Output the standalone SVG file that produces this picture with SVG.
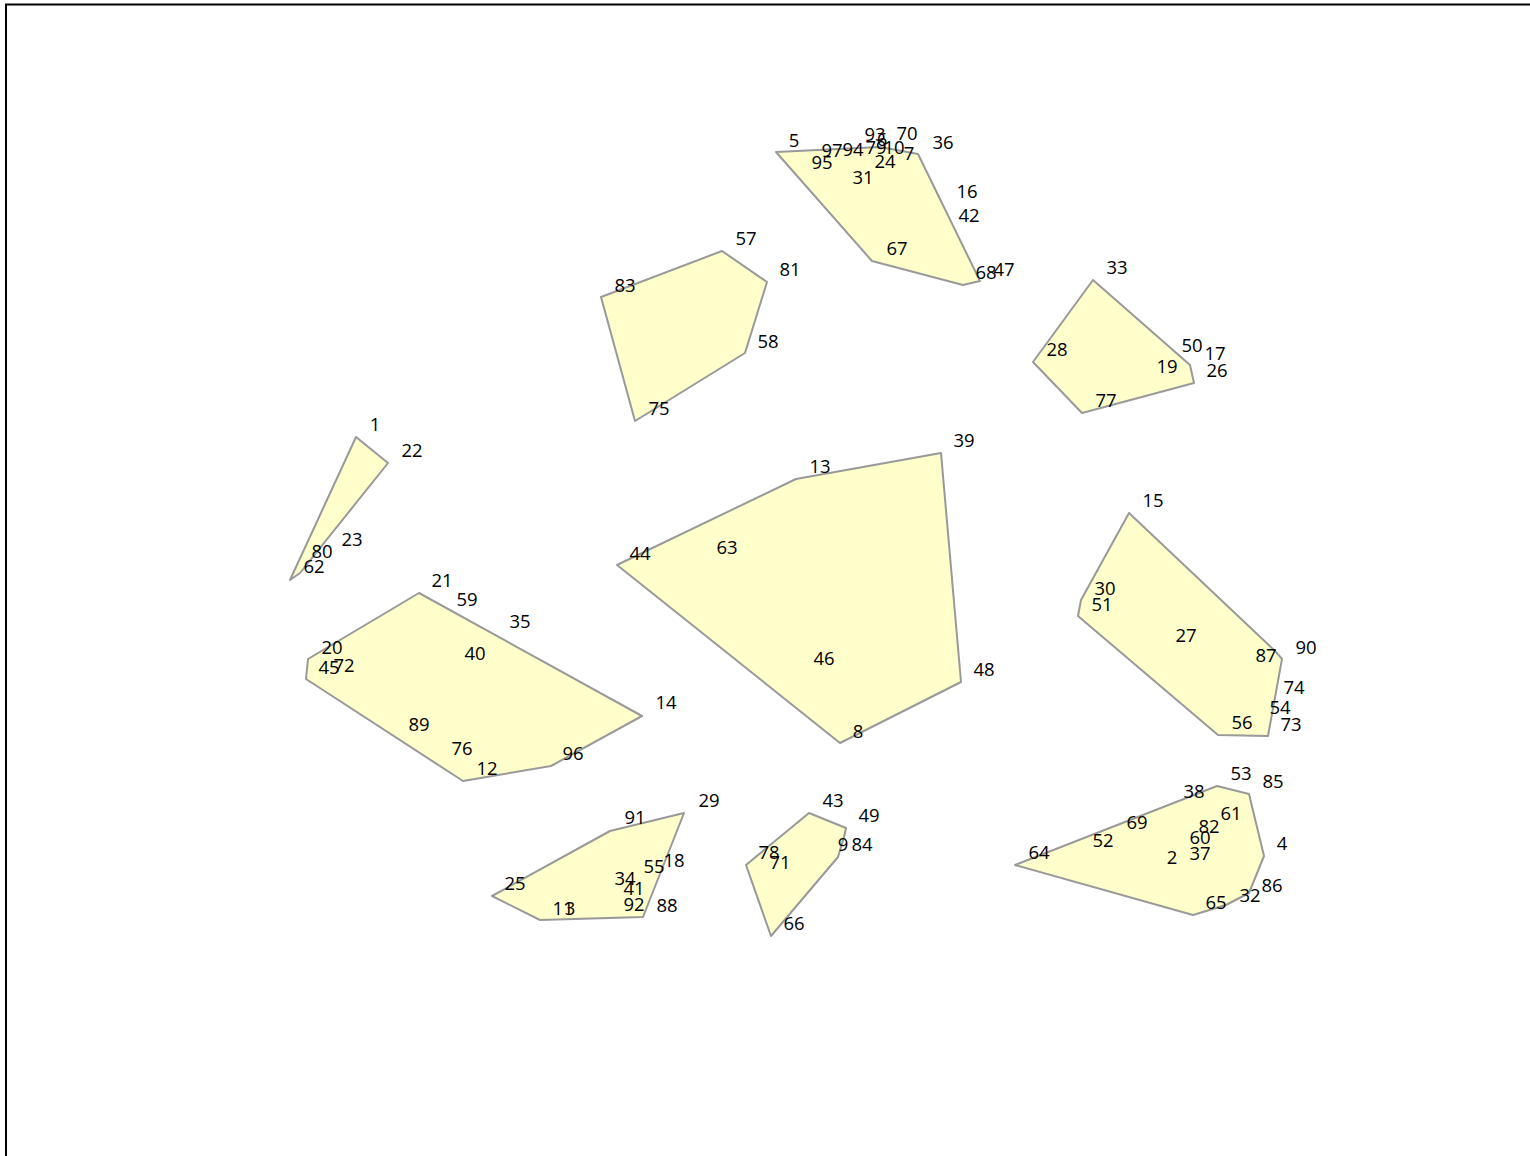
<svg xmlns="http://www.w3.org/2000/svg" width="1530" height="1156" viewBox="0 0 1530 1156">
<style>
.p{fill:#ffffcc;stroke:#999999;stroke-width:2;stroke-linejoin:round}
text{font-family:"Open Sans","Liberation Sans",sans-serif;font-size:18.5px;fill:#000;text-anchor:middle}
</style>
<rect x="0" y="0" width="1530" height="1156" fill="#fff"/>
<rect x="6" y="4.5" width="1600" height="1300" fill="none" stroke="#000" stroke-width="2"/>
<g id="shapes">
<polygon id="poly-top" class="p" points="776,152 880,147 918,154 980,281 963,285 872,261"/>
<polygon id="poly-57" class="p" points="601,297 722,251 767,282 745,353 635,421"/>
<polygon id="poly-33" class="p" points="1093,280 1190,365 1194,383 1082,413 1033,362"/>
<polygon id="poly-1" class="p" points="356,437 388,463 300,573 290,580"/>
<polygon id="poly-big" class="p" points="617,565 796,479 941,453 961,682 840,743"/>
<polygon id="poly-21" class="p" points="419,593 642,716 551,766 463,781 306,679 308,659"/>
<polygon id="poly-15" class="p" points="1129,513 1276,652 1282,659 1268,736 1218,735 1078,616 1081,600"/>
<polygon id="poly-29" class="p" points="684,813 643,917 540,920 492,896 610,831"/>
<polygon id="poly-43" class="p" points="809,813 846,828 844,837 838,857 771,936 746,865"/>
<polygon id="poly-64" class="p" points="1217,786 1249,794 1264,856 1249,893 1226,905 1193,915 1015,865"/>
</g>
<g id="labels" transform="translate(0,1)">
<text x="794" y="146">5</text>
<text x="875" y="140">93</text>
<text x="882" y="145">6</text>
<text x="907" y="139">70</text>
<text x="943" y="148">36</text>
<text x="832" y="156">97</text>
<text x="853" y="155">94</text>
<text x="876" y="153">79</text>
<text x="894" y="153">10</text>
<text x="909" y="159">7</text>
<text x="822" y="168">95</text>
<text x="885" y="167">24</text>
<text x="863" y="183">31</text>
<text x="967" y="197">16</text>
<text x="969" y="221">42</text>
<text x="897" y="254">67</text>
<text x="986" y="278">68</text>
<text x="1004" y="275">47</text>
<text x="790" y="275">81</text>
<text x="746" y="244">57</text>
<text x="625" y="291">83</text>
<text x="768" y="347">58</text>
<text x="659" y="414">75</text>
<text x="1117" y="273">33</text>
<text x="1057" y="355">28</text>
<text x="1192" y="351">50</text>
<text x="1215" y="359">17</text>
<text x="1217" y="376">26</text>
<text x="1167" y="372">19</text>
<text x="1106" y="406">77</text>
<text x="375" y="430">1</text>
<text x="412" y="456">22</text>
<text x="352" y="545">23</text>
<text x="322" y="557">80</text>
<text x="314" y="572">62</text>
<text x="964" y="446">39</text>
<text x="820" y="472">13</text>
<text x="640" y="559">44</text>
<text x="727" y="553">63</text>
<text x="824" y="664">46</text>
<text x="984" y="675">48</text>
<text x="858" y="737">8</text>
<text x="442" y="586">21</text>
<text x="467" y="605">59</text>
<text x="520" y="627">35</text>
<text x="332" y="653">20</text>
<text x="329" y="673">45</text>
<text x="344" y="671">72</text>
<text x="475" y="659">40</text>
<text x="419" y="730">89</text>
<text x="462" y="754">76</text>
<text x="487" y="774">12</text>
<text x="573" y="759">96</text>
<text x="666" y="708">14</text>
<text x="1153" y="506">15</text>
<text x="1105" y="594">30</text>
<text x="1102" y="610">51</text>
<text x="1186" y="641">27</text>
<text x="1266" y="661">87</text>
<text x="1306" y="653">90</text>
<text x="1294" y="693">74</text>
<text x="1280" y="713">54</text>
<text x="1291" y="730">73</text>
<text x="1242" y="728">56</text>
<text x="709" y="806">29</text>
<text x="635" y="823">91</text>
<text x="515" y="889">25</text>
<text x="654" y="872">55</text>
<text x="674" y="866">18</text>
<text x="625" y="884">34</text>
<text x="634" y="894">41</text>
<text x="634" y="910">92</text>
<text x="667" y="911">88</text>
<text x="563" y="914">11</text>
<text x="570" y="914">3</text>
<text x="833" y="806">43</text>
<text x="869" y="821">49</text>
<text x="843" y="850">9</text>
<text x="862" y="850">84</text>
<text x="769" y="858">78</text>
<text x="780" y="868">71</text>
<text x="794" y="929">66</text>
<text x="1241" y="779">53</text>
<text x="1273" y="787">85</text>
<text x="1194" y="797">38</text>
<text x="1231" y="819">61</text>
<text x="1137" y="828">69</text>
<text x="1209" y="832">82</text>
<text x="1200" y="843">60</text>
<text x="1103" y="846">52</text>
<text x="1282" y="849">4</text>
<text x="1039" y="858">64</text>
<text x="1172" y="863">2</text>
<text x="1200" y="859">37</text>
<text x="1272" y="891">86</text>
<text x="1250" y="901">32</text>
<text x="1216" y="908">65</text>
</g>
</svg>
